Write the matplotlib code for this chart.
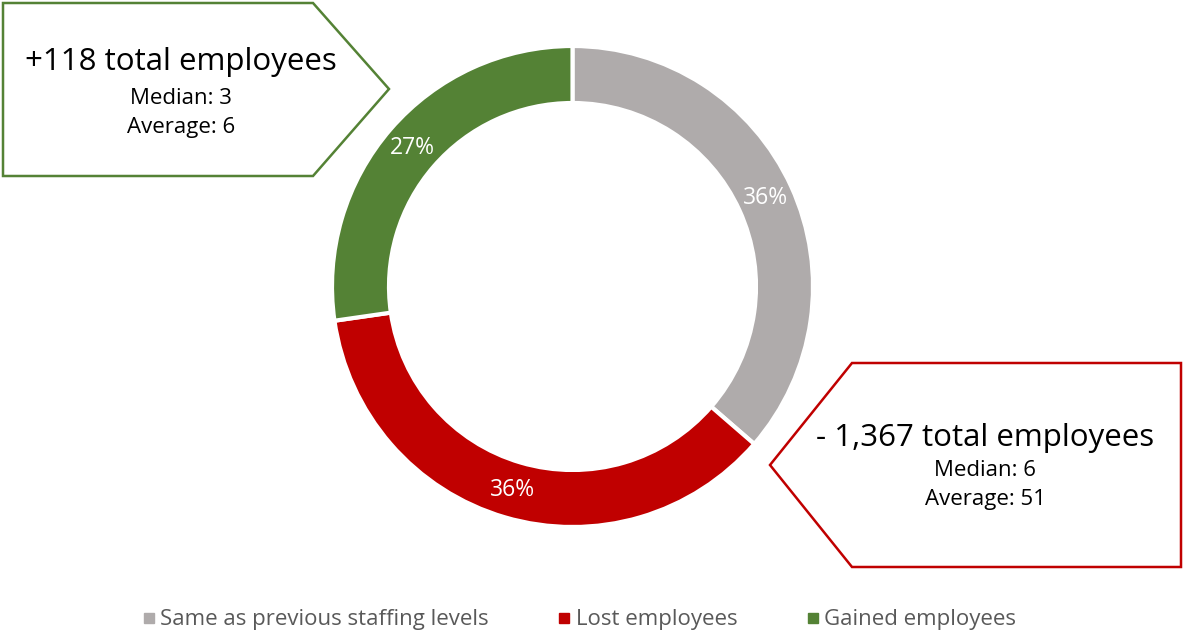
import matplotlib
matplotlib.use("Agg")
import matplotlib.pyplot as plt
from matplotlib.patches import Polygon
from matplotlib.lines import Line2D

plt.rcParams['font.family'] = ['Open Sans', 'DejaVu Sans']

categories = ["Same as previous staffing levels", "Lost employees", "Gained employees"]
shares = [36, 36, 27]
colors = ["#AFABAB", "#C00000", "#548235"]

gained_lines = ["+118 total employees", "Median: 3", "Average: 6"]
lost_lines = ["- 1,367 total employees", "Median: 6", "Average: 51"]

W, H = 1183, 635
fig = plt.figure(figsize=(W / 100, H / 100), dpi=100)
ax = fig.add_axes([0, 0, 1, 1])
ax.set_xlim(0, W)
ax.set_ylim(0, H)
ax.set_aspect('equal')
ax.axis('off')


def Y(y):
    return H - y


cx, cy, R, ring = 572.5, 286.5, 240.5, 57
wedges, _, autotexts = ax.pie(
    shares, colors=colors, startangle=90, counterclock=False,
    center=(cx, Y(cy)), radius=R,
    autopct=lambda p: f"{p:.0f}%", pctdistance=1 - ring / (2 * R),
    wedgeprops=dict(width=ring, edgecolor='white', linewidth=3),
    textprops=dict(color='white', fontsize=16.5),
)
ax.set_xlim(0, W)
ax.set_ylim(0, H)

# Callout for gained employees (arrow pointing right)
green_poly = [(3, 3), (313, 3), (389, 89), (313, 176), (3, 176)]
ax.add_patch(Polygon([(x, Y(y)) for x, y in green_poly], closed=True,
                     facecolor='white', edgecolor=colors[2], linewidth=1.8))
ax.text(181, Y(62), gained_lines[0], ha='center', va='center', fontsize=22.5, color='#000000')
ax.text(181, Y(98), gained_lines[1], ha='center', va='center', fontsize=16, color='#000000')
ax.text(181, Y(127), gained_lines[2], ha='center', va='center', fontsize=16, color='#000000')

# Callout for lost employees (arrow pointing left)
red_poly = [(852, 363), (1181, 363), (1181, 567), (852, 567), (770, 465)]
ax.add_patch(Polygon([(x, Y(y)) for x, y in red_poly], closed=True,
                     facecolor='white', edgecolor=colors[1], linewidth=1.8))
ax.text(985, Y(438), lost_lines[0], ha='center', va='center', fontsize=22.5, color='#000000')
ax.text(985, Y(470), lost_lines[1], ha='center', va='center', fontsize=16, color='#000000')
ax.text(985, Y(499), lost_lines[2], ha='center', va='center', fontsize=16, color='#000000')

handles = [Line2D([], [], marker='s', linestyle='none', markersize=7,
                  markerfacecolor=c, markeredgecolor=c) for c in colors]
fig.legend(handles, categories, loc='center', bbox_to_anchor=(578 / W, 1 - 620 / H),
           ncol=3, frameon=False, fontsize=16, labelcolor='#595959',
           handletextpad=0.1, columnspacing=3.0, handlelength=0.8)

fig.savefig("out.png", dpi=100, facecolor='white')
